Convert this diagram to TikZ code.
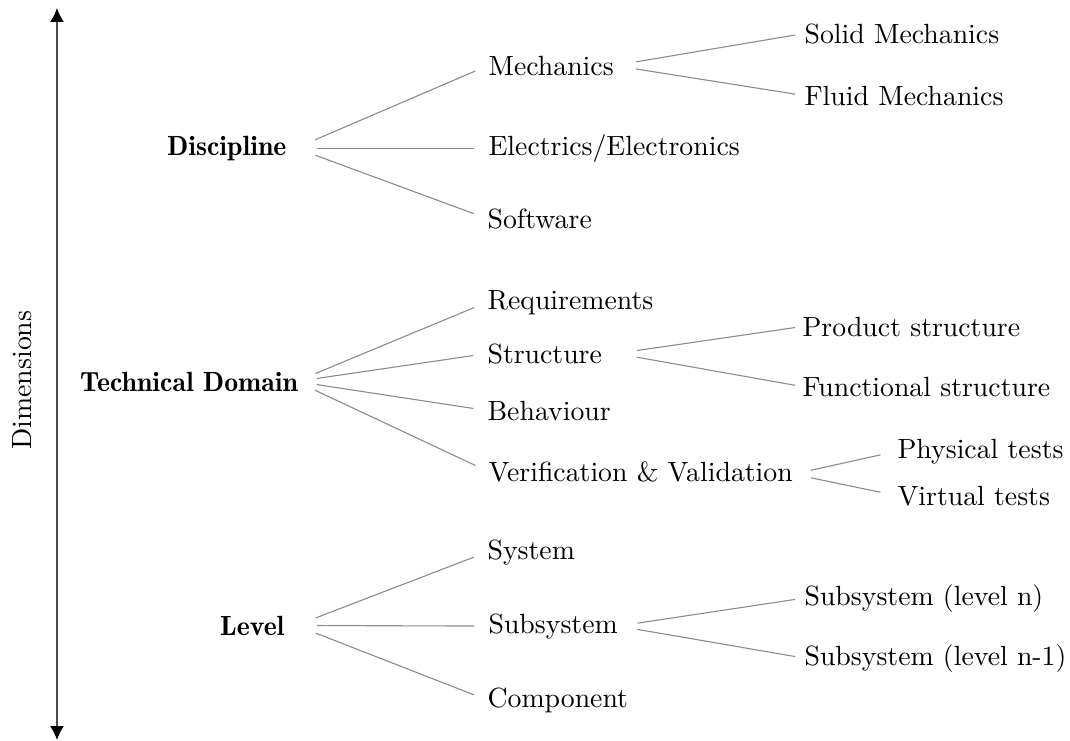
\documentclass[tikz,border=0pt]{standalone}
\usetikzlibrary{arrows.meta}
\begin{document}
\begin{tikzpicture}[x=0.36pt,y=-0.36pt,
  lab/.style={inner sep=0pt, anchor=base west},
  rootlab/.style={inner sep=0pt, anchor=base east, font=\fontseries{b}\selectfont},
  branch/.style={draw=black!45, line width=0.4pt},
  fromroot/.style={branch, shorten <=7.5pt, shorten >=5pt},
  fromsub/.style={branch, shorten <=8pt},
  dimarrow/.style={draw=black!70, line width=0.5pt,
    {Latex[length=5pt,width=5pt,color=black]}-{Latex[length=5pt,width=5pt,color=black]}}
]
\useasboundingbox (0,0) rectangle (1070,740);

% vertical axis
\coordinate (dimtop) at (57,8);
\coordinate (dimbot) at (57,740);
\draw[dimarrow] (dimtop) -- (dimbot);
\node[rotate=90, inner sep=0pt] (dim) at (22,380) {Dimensions};

% roots
\node[rootlab] (disc) at (287,155) {Discipline};
\node[rootlab, anchor=base] (tech) at (189,391) {Technical Domain};
\node[rootlab] (lev)  at (285,635) {Level};

% second column
\node[lab] (mech) at (488,75)  {Mechanics};
\node[lab] (elec) at (488,155) {Electrics/Electronics};
\node[lab] (soft) at (487,228) {Software};
\node[lab] (req)  at (487,309) {Requirements};
\node[lab] (struc) at (487,363) {Structure};
\node[lab] (beh)  at (487,420) {Behaviour};
\node[lab] (vv)   at (488,481) {Verification \& Validation};
\node[lab] (sys)  at (487,559) {System};
\node[lab] (subs) at (488,633) {Subsystem};
\node[lab] (comp) at (487,707) {Component};

% third column
\node[lab] (solid) at (804,43)  {Solid Mechanics};
\node[lab] (fluid) at (804,105) {Fluid Mechanics};
\node[lab] (prod)  at (802,336) {Product structure};
\node[lab] (func)  at (802,396) {Functional structure};
\node[lab] (phys)  at (897,458) {Physical tests};
\node[lab] (virt)  at (897,505) {Virtual tests};
\node[lab] (subn)  at (804,605) {Subsystem (level n)};
\node[lab] (subm)  at (804,665) {Subsystem (level n-1)};

% Discipline branches
\draw[fromroot] ([xshift=3.2pt]disc.east) -- (mech.west);
\draw[fromroot] ([xshift=3.2pt]disc.east) -- (elec.west);
\draw[fromroot] ([xshift=3.2pt]disc.east) -- (soft.west);
% Technical Domain branches
\draw[fromroot] ([xshift=-0.8pt]tech.east) -- (req.west);
\draw[fromroot] ([xshift=-0.8pt]tech.east) -- (struc.west);
\draw[fromroot] ([xshift=-0.8pt]tech.east) -- (beh.west);
\draw[fromroot] ([xshift=-0.8pt]tech.east) -- (vv.west);
% Level branches
\draw[fromroot] ([xshift=4pt]lev.east) -- (sys.west);
\draw[fromroot] ([xshift=4pt]lev.east) -- (subs.west);
\draw[fromroot] ([xshift=4pt]lev.east) -- (comp.west);

% third-level branches
\draw[fromsub, shorten >=3.2pt] (mech.east) -- (solid.west);
\draw[fromsub, shorten >=3.2pt] (mech.east) -- (fluid.west);
\draw[fromsub, shorten <=7.5pt, shorten >=2.5pt] ([xshift=5pt]struc.east) -- (prod.west);
\draw[fromsub, shorten <=7.5pt, shorten >=2.5pt] ([xshift=5pt]struc.east) -- (func.west);
\draw[fromsub, shorten <=6.5pt, shorten >=6.1pt] ([yshift=-1pt]vv.east) -- (phys.west);
\draw[fromsub, shorten <=6.5pt, shorten >=6.1pt] ([yshift=-1pt]vv.east) -- (virt.west);
\draw[fromsub, shorten <=7pt, shorten >=3.2pt] (subs.east) -- (subn.west);
\draw[fromsub, shorten <=7pt, shorten >=3.2pt] (subs.east) -- (subm.west);
\end{tikzpicture}
\end{document}
